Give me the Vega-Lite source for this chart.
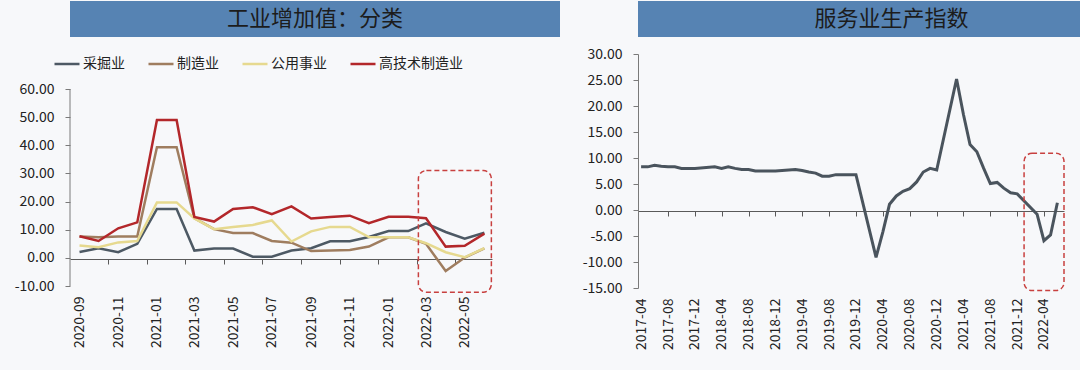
{
  "$schema": "https://vega.github.io/schema/vega-lite/v6.json",
  "background": "#f7f8fa",
  "padding": {"left": 0, "top": 1, "right": 5, "bottom": 21},
  "config": {
    "font": "Noto Sans CJK SC",
    "view": {"stroke": null},
    "locale": {"number": {"decimal": ".", "thousands": ",", "grouping": [3], "currency": ["$", ""], "minus": "-"}},
    "axis": {"grid": false, "labelFont": "Noto Sans CJK SC", "labelFontSize": 14, "labelColor": "#222222", "domainColor": "#7a7a7a", "tickColor": "#7a7a7a", "title": null, "labelOverlap": false}
  },
  "datasets": {
    "left": [
      {"date": "2020-09-01", "series": "采掘业", "v": 2.1}, {"date": "2020-10-01", "series": "采掘业", "v": 3.4}, {"date": "2020-11-01", "series": "采掘业", "v": 2.0}, {"date": "2020-12-01", "series": "采掘业", "v": 5.0},
      {"date": "2021-01-01", "series": "采掘业", "v": 17.4}, {"date": "2021-02-01", "series": "采掘业", "v": 17.4}, {"date": "2021-03-01", "series": "采掘业", "v": 2.6}, {"date": "2021-04-01", "series": "采掘业", "v": 3.3},
      {"date": "2021-05-01", "series": "采掘业", "v": 3.3}, {"date": "2021-06-01", "series": "采掘业", "v": 0.4}, {"date": "2021-07-01", "series": "采掘业", "v": 0.4}, {"date": "2021-08-01", "series": "采掘业", "v": 2.6},
      {"date": "2021-09-01", "series": "采掘业", "v": 3.4}, {"date": "2021-10-01", "series": "采掘业", "v": 5.9}, {"date": "2021-11-01", "series": "采掘业", "v": 5.9}, {"date": "2021-12-01", "series": "采掘业", "v": 7.4},
      {"date": "2022-01-01", "series": "采掘业", "v": 9.5}, {"date": "2022-02-01", "series": "采掘业", "v": 9.5}, {"date": "2022-03-01", "series": "采掘业", "v": 12.3}, {"date": "2022-04-01", "series": "采掘业", "v": 9.2},
      {"date": "2022-05-01", "series": "采掘业", "v": 6.8}, {"date": "2022-06-01", "series": "采掘业", "v": 8.9},

      {"date": "2020-09-01", "series": "制造业", "v": 7.6}, {"date": "2020-10-01", "series": "制造业", "v": 7.3}, {"date": "2020-11-01", "series": "制造业", "v": 7.6}, {"date": "2020-12-01", "series": "制造业", "v": 7.6},
      {"date": "2021-01-01", "series": "制造业", "v": 39.3}, {"date": "2021-02-01", "series": "制造业", "v": 39.3}, {"date": "2021-03-01", "series": "制造业", "v": 14.1}, {"date": "2021-04-01", "series": "制造业", "v": 10.2},
      {"date": "2021-05-01", "series": "制造业", "v": 8.8}, {"date": "2021-06-01", "series": "制造业", "v": 8.8}, {"date": "2021-07-01", "series": "制造业", "v": 6.0}, {"date": "2021-08-01", "series": "制造业", "v": 5.4},
      {"date": "2021-09-01", "series": "制造业", "v": 2.4}, {"date": "2021-10-01", "series": "制造业", "v": 2.6}, {"date": "2021-11-01", "series": "制造业", "v": 2.8}, {"date": "2021-12-01", "series": "制造业", "v": 4.0},
      {"date": "2022-01-01", "series": "制造业", "v": 7.3}, {"date": "2022-02-01", "series": "制造业", "v": 7.3}, {"date": "2022-03-01", "series": "制造业", "v": 5.0}, {"date": "2022-04-01", "series": "制造业", "v": -4.7},
      {"date": "2022-05-01", "series": "制造业", "v": 0.1}, {"date": "2022-06-01", "series": "制造业", "v": 3.4},

      {"date": "2020-09-01", "series": "公用事业", "v": 4.4}, {"date": "2020-10-01", "series": "公用事业", "v": 3.8}, {"date": "2020-11-01", "series": "公用事业", "v": 5.5}, {"date": "2020-12-01", "series": "公用事业", "v": 6.0},
      {"date": "2021-01-01", "series": "公用事业", "v": 19.7}, {"date": "2021-02-01", "series": "公用事业", "v": 19.7}, {"date": "2021-03-01", "series": "公用事业", "v": 14.0}, {"date": "2021-04-01", "series": "公用事业", "v": 10.2},
      {"date": "2021-05-01", "series": "公用事业", "v": 11.0}, {"date": "2021-06-01", "series": "公用事业", "v": 11.7}, {"date": "2021-07-01", "series": "公用事业", "v": 13.3}, {"date": "2021-08-01", "series": "公用事业", "v": 5.8},
      {"date": "2021-09-01", "series": "公用事业", "v": 9.4}, {"date": "2021-10-01", "series": "公用事业", "v": 11.0}, {"date": "2021-11-01", "series": "公用事业", "v": 11.0}, {"date": "2021-12-01", "series": "公用事业", "v": 7.4},
      {"date": "2022-01-01", "series": "公用事业", "v": 7.3}, {"date": "2022-02-01", "series": "公用事业", "v": 7.3}, {"date": "2022-03-01", "series": "公用事业", "v": 5.2}, {"date": "2022-04-01", "series": "公用事业", "v": 2.0},
      {"date": "2022-05-01", "series": "公用事业", "v": 0.2}, {"date": "2022-06-01", "series": "公用事业", "v": 3.5},

      {"date": "2020-09-01", "series": "高技术制造业", "v": 7.7}, {"date": "2020-10-01", "series": "高技术制造业", "v": 6.0}, {"date": "2020-11-01", "series": "高技术制造业", "v": 10.5}, {"date": "2020-12-01", "series": "高技术制造业", "v": 12.6},
      {"date": "2021-01-01", "series": "高技术制造业", "v": 49.0}, {"date": "2021-02-01", "series": "高技术制造业", "v": 49.0}, {"date": "2021-03-01", "series": "高技术制造业", "v": 14.5}, {"date": "2021-04-01", "series": "高技术制造业", "v": 12.9},
      {"date": "2021-05-01", "series": "高技术制造业", "v": 17.4}, {"date": "2021-06-01", "series": "高技术制造业", "v": 18.0}, {"date": "2021-07-01", "series": "高技术制造业", "v": 15.5}, {"date": "2021-08-01", "series": "高技术制造业", "v": 18.3},
      {"date": "2021-09-01", "series": "高技术制造业", "v": 14.0}, {"date": "2021-10-01", "series": "高技术制造业", "v": 14.5}, {"date": "2021-11-01", "series": "高技术制造业", "v": 15.0}, {"date": "2021-12-01", "series": "高技术制造业", "v": 12.3},
      {"date": "2022-01-01", "series": "高技术制造业", "v": 14.6}, {"date": "2022-02-01", "series": "高技术制造业", "v": 14.6}, {"date": "2022-03-01", "series": "高技术制造业", "v": 14.1}, {"date": "2022-04-01", "series": "高技术制造业", "v": 4.0},
      {"date": "2022-05-01", "series": "高技术制造业", "v": 4.3}, {"date": "2022-06-01", "series": "高技术制造业", "v": 8.6}
    ],
    "right": [
      {"date": "2017-04-01", "v": 8.3}, {"date": "2017-05-01", "v": 8.3}, {"date": "2017-06-01", "v": 8.6}, {"date": "2017-07-01", "v": 8.4}, {"date": "2017-08-01", "v": 8.3}, {"date": "2017-09-01", "v": 8.3}, {"date": "2017-10-01", "v": 8.0}, {"date": "2017-11-01", "v": 8.0}, {"date": "2017-12-01", "v": 8.0},
      {"date": "2018-03-01", "v": 8.3}, {"date": "2018-04-01", "v": 8.0}, {"date": "2018-05-01", "v": 8.3}, {"date": "2018-06-01", "v": 8.0}, {"date": "2018-07-01", "v": 7.8}, {"date": "2018-08-01", "v": 7.8}, {"date": "2018-09-01", "v": 7.5}, {"date": "2018-10-01", "v": 7.5}, {"date": "2018-11-01", "v": 7.5}, {"date": "2018-12-01", "v": 7.5},
      {"date": "2019-03-01", "v": 7.8}, {"date": "2019-04-01", "v": 7.6}, {"date": "2019-05-01", "v": 7.3}, {"date": "2019-06-01", "v": 7.1}, {"date": "2019-07-01", "v": 6.5}, {"date": "2019-08-01", "v": 6.5}, {"date": "2019-09-01", "v": 6.8}, {"date": "2019-10-01", "v": 6.8}, {"date": "2019-11-01", "v": 6.8}, {"date": "2019-12-01", "v": 6.8},
      {"date": "2020-03-01", "v": -9.1}, {"date": "2020-04-01", "v": -4.2}, {"date": "2020-05-01", "v": 1.1}, {"date": "2020-06-01", "v": 2.7}, {"date": "2020-07-01", "v": 3.6}, {"date": "2020-08-01", "v": 4.1}, {"date": "2020-09-01", "v": 5.4}, {"date": "2020-10-01", "v": 7.3}, {"date": "2020-11-01", "v": 8.0}, {"date": "2020-12-01", "v": 7.7},
      {"date": "2021-03-01", "v": 25.2}, {"date": "2021-04-01", "v": 18.4}, {"date": "2021-05-01", "v": 12.6}, {"date": "2021-06-01", "v": 11.2}, {"date": "2021-07-01", "v": 8.1}, {"date": "2021-08-01", "v": 5.1}, {"date": "2021-09-01", "v": 5.3}, {"date": "2021-10-01", "v": 4.2}, {"date": "2021-11-01", "v": 3.3}, {"date": "2021-12-01", "v": 3.1},
      {"date": "2022-03-01", "v": -0.8}, {"date": "2022-04-01", "v": -5.9}, {"date": "2022-05-01", "v": -4.8}, {"date": "2022-06-01", "v": 1.4}
    ]
  },
  "spacing": 10,
  "resolve": {"scale": {"color": "independent"}, "legend": {"color": "independent"}},
  "vconcat": [
    {
      "spacing": 78,
      "hconcat": [
        {
          "width": 490, "height": 36,
          "view": {"fill": "#5683b3", "stroke": null},
          "data": {"values": [{"t": "工业增加值：分类"}]},
          "mark": {"type": "text", "fontSize": 22, "color": "#1c1c1c", "font": "Noto Sans CJK SC", "align": "center", "baseline": "middle"},
          "encoding": {"text": {"field": "t"}}
        },
        {
          "width": 507, "height": 36,
          "view": {"fill": "#5683b3", "stroke": null},
          "data": {"values": [{"t": "服务业生产指数"}]},
          "mark": {"type": "text", "fontSize": 22, "color": "#1c1c1c", "font": "Noto Sans CJK SC", "align": "center", "baseline": "middle"},
          "encoding": {"text": {"field": "t"}}
        }
      ]
    },
    {
      "spacing": 75,
      "resolve": {"scale": {"color": "independent"}, "legend": {"color": "independent"}},
      "hconcat": [
        {
          "width": 422, "height": 232,
          "layer": [
            {
              "data": {"name": "left"},
              "mark": {"type": "line", "strokeWidth": 2.5},
              "encoding": {
                "x": {"field": "date", "type": "temporal",
                  "scale": {"type": "utc", "domain": [{"year": 2020, "month": 8, "date": 17, "utc": true}, {"year": 2022, "month": 6, "date": 13, "utc": true}]},
                  "axis": {"orient": "bottom", "values": [
                    {"year": 2020, "month": 9, "date": 1, "utc": true}, {"year": 2020, "month": 11, "date": 1, "utc": true},
                    {"year": 2021, "month": 1, "date": 1, "utc": true}, {"year": 2021, "month": 3, "date": 1, "utc": true},
                    {"year": 2021, "month": 5, "date": 1, "utc": true}, {"year": 2021, "month": 7, "date": 1, "utc": true},
                    {"year": 2021, "month": 9, "date": 1, "utc": true}, {"year": 2021, "month": 11, "date": 1, "utc": true},
                    {"year": 2022, "month": 1, "date": 1, "utc": true}, {"year": 2022, "month": 3, "date": 1, "utc": true},
                    {"year": 2022, "month": 5, "date": 1, "utc": true}],
                    "format": "%Y-%m", "labelAngle": 270, "ticks": false, "domain": false, "labelPadding": 10, "labelAlign": "right", "labelBaseline": "middle", "labelOverlap": false}},
                "y": {"field": "v", "type": "quantitative",
                  "scale": {"domain": [-10, 72.44], "nice": false, "zero": false},
                  "axis": {"values": [-10, 0, 10, 20, 30, 40, 50, 60], "format": ".2f", "domain": false, "tickSize": 5, "labelPadding": 11, "minExtent": 70, "maxExtent": 70, "labelOverlap": false}},
                "color": {"field": "series", "type": "nominal",
                  "scale": {"domain": ["采掘业", "制造业", "公用事业", "高技术制造业"], "range": ["#4d5964", "#9f7d5f", "#e6d98f", "#b3272a"]},
                  "legend": {"orient": "none", "legendX": -17, "legendY": -4, "direction": "horizontal", "title": null,
                    "symbolType": "stroke", "symbolStrokeWidth": 2.5, "symbolSize": 625, "labelFont": "Noto Sans CJK SC",
                    "labelFontSize": 14, "labelColor": "#222222", "columnPadding": 18, "labelOffset": 2}}
              }
            },
            {
              "data": {"values": [{}]},
              "mark": {"type": "rule", "color": "#7a7a7a", "strokeWidth": 1},
              "encoding": {
                "x": {"datum": {"year": 2020, "month": 8, "date": 17, "utc": true}, "type": "temporal", "axis": null},
                "y": {"datum": -10, "type": "quantitative",
                  "axis": {"values": [-10, 0, 10, 20, 30, 40, 50, 60], "format": ".2f", "domain": false, "tickSize": 5, "labelPadding": 11, "minExtent": 70, "maxExtent": 70, "labelOverlap": false}},
                "y2": {"datum": 60}
              }
            },
            {
              "data": {"values": [{}]},
              "mark": {"type": "rect", "fill": null, "stroke": "#c8403f", "strokeDash": [5, 3], "strokeWidth": 1.5, "cornerRadius": 8, "clip": false},
              "encoding": {
                "x": {"datum": {"year": 2022, "month": 2, "date": 17, "utc": true}, "type": "temporal",
                  "axis": {"orient": "bottom", "offset": -27, "labels": false, "tickSize": 5, "domainColor": "#5a5a5a", "tickColor": "#5a5a5a",
                    "values": [
                      {"year": 2020, "month": 10, "date": 16, "utc": true}, {"year": 2020, "month": 12, "date": 16, "utc": true},
                      {"year": 2021, "month": 2, "date": 15, "utc": true}, {"year": 2021, "month": 4, "date": 16, "utc": true},
                      {"year": 2021, "month": 6, "date": 16, "utc": true}, {"year": 2021, "month": 8, "date": 16, "utc": true},
                      {"year": 2021, "month": 10, "date": 16, "utc": true}, {"year": 2021, "month": 12, "date": 16, "utc": true},
                      {"year": 2022, "month": 2, "date": 15, "utc": true}, {"year": 2022, "month": 4, "date": 16, "utc": true}]}},
                "x2": {"datum": {"year": 2022, "month": 6, "date": 12, "utc": true}},
                "y": {"datum": 31, "type": "quantitative",
                  "axis": {"values": [-10, 0, 10, 20, 30, 40, 50, 60], "format": ".2f", "domain": false, "tickSize": 5, "labelPadding": 11, "minExtent": 70, "maxExtent": 70, "labelOverlap": false}},
                "y2": {"datum": -12.2}
              }
            }
          ],
          "resolve": {"axis": {"x": "independent"}}
        },
        {
          "width": 426, "height": 234,
          "layer": [
            {
              "data": {"name": "right"},
              "mark": {"type": "line", "strokeWidth": 3, "color": "#4a545d"},
              "encoding": {
                "x": {"field": "date", "type": "temporal",
                  "scale": {"type": "utc", "domain": [{"year": 2017, "month": 3, "date": 18, "utc": true}, {"year": 2022, "month": 7, "date": 1, "utc": true}]},
                  "axis": {"orient": "bottom", "values": [
                    {"year": 2017, "month": 4, "date": 1, "utc": true}, {"year": 2017, "month": 8, "date": 1, "utc": true}, {"year": 2017, "month": 12, "date": 1, "utc": true},
                    {"year": 2018, "month": 4, "date": 1, "utc": true}, {"year": 2018, "month": 8, "date": 1, "utc": true}, {"year": 2018, "month": 12, "date": 1, "utc": true},
                    {"year": 2019, "month": 4, "date": 1, "utc": true}, {"year": 2019, "month": 8, "date": 1, "utc": true}, {"year": 2019, "month": 12, "date": 1, "utc": true},
                    {"year": 2020, "month": 4, "date": 1, "utc": true}, {"year": 2020, "month": 8, "date": 1, "utc": true}, {"year": 2020, "month": 12, "date": 1, "utc": true},
                    {"year": 2021, "month": 4, "date": 1, "utc": true}, {"year": 2021, "month": 8, "date": 1, "utc": true}, {"year": 2021, "month": 12, "date": 1, "utc": true},
                    {"year": 2022, "month": 4, "date": 1, "utc": true}],
                    "format": "%Y-%m", "labelAngle": 270, "ticks": false, "domain": false, "labelPadding": 10, "labelAlign": "right", "labelBaseline": "middle", "labelOverlap": false}},
                "y": {"field": "v", "type": "quantitative",
                  "scale": {"domain": [-15, 30], "nice": false, "zero": false},
                  "axis": {"values": [-15, -10, -5, 0, 5, 10, 15, 20, 25, 30], "format": ".2f", "tickSize": 5, "labelPadding": 11, "minExtent": 70, "maxExtent": 70, "labelOverlap": false}}
              }
            },
            {
              "data": {"values": [{}]},
              "mark": {"type": "rect", "fill": null, "stroke": "#c8403f", "strokeDash": [5, 3], "strokeWidth": 1.5, "cornerRadius": 8, "clip": false},
              "encoding": {
                "x": {"datum": {"year": 2022, "month": 1, "date": 1, "utc": true}, "type": "temporal",
                  "axis": {"orient": "bottom", "offset": -77, "labels": false, "tickSize": 5, "domainColor": "#5a5a5a", "tickColor": "#5a5a5a",
                    "values": [
                      {"year": 2017, "month": 8, "date": 1, "utc": true}, {"year": 2017, "month": 12, "date": 1, "utc": true},
                      {"year": 2018, "month": 4, "date": 1, "utc": true}, {"year": 2018, "month": 8, "date": 1, "utc": true}, {"year": 2018, "month": 12, "date": 1, "utc": true},
                      {"year": 2019, "month": 4, "date": 1, "utc": true}, {"year": 2019, "month": 8, "date": 1, "utc": true}, {"year": 2019, "month": 12, "date": 1, "utc": true},
                      {"year": 2020, "month": 4, "date": 1, "utc": true}, {"year": 2020, "month": 8, "date": 1, "utc": true}, {"year": 2020, "month": 12, "date": 1, "utc": true},
                      {"year": 2021, "month": 4, "date": 1, "utc": true}, {"year": 2021, "month": 8, "date": 1, "utc": true}, {"year": 2021, "month": 12, "date": 1, "utc": true},
                      {"year": 2022, "month": 4, "date": 1, "utc": true}]}},
                "x2": {"datum": {"year": 2022, "month": 7, "date": 1, "utc": true}},
                "y": {"datum": 10.9, "type": "quantitative",
                  "axis": {"values": [-15, -10, -5, 0, 5, 10, 15, 20, 25, 30], "format": ".2f", "tickSize": 5, "labelPadding": 11, "minExtent": 70, "maxExtent": 70, "labelOverlap": false}},
                "y2": {"datum": -15.5}
              }
            }
          ],
          "resolve": {"axis": {"x": "independent"}}
        }
      ]
    }
  ]
}
